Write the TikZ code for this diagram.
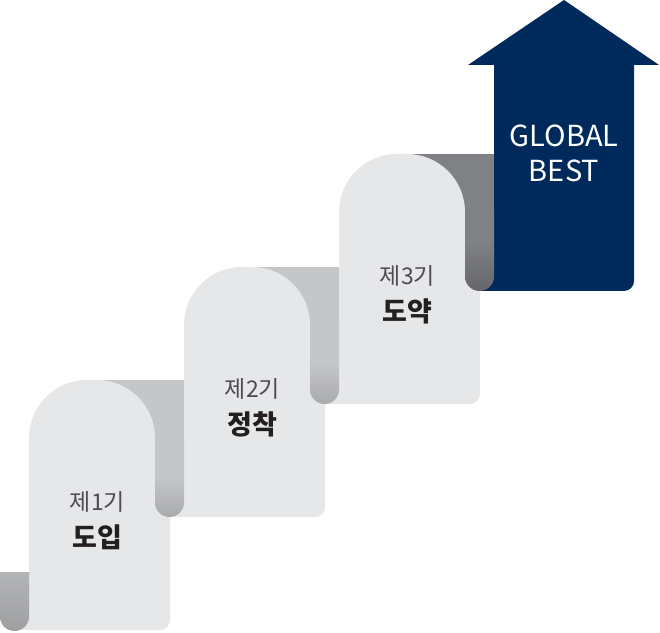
\documentclass[tikz,border=0pt]{standalone}
\usepackage{fontspec}
\setmainfont{Noto Sans CJK KR}
\usetikzlibrary{positioning}

\definecolor{cardgray}{HTML}{E6E7E9}
\definecolor{bandgray}{HTML}{C5C6C8}
\definecolor{banddark}{HTML}{808185}
\definecolor{navy}{HTML}{002A5C}
\definecolor{lblgray}{HTML}{4D4D4F}
\definecolor{ttlblack}{HTML}{231F20}

\pgfdeclareverticalshading{curlA}{100bp}{color(0bp)=(bandgray!72!black); color(50bp)=(bandgray); color(100bp)=(bandgray)}
\pgfdeclareverticalshading{curlC}{100bp}{color(0bp)=(banddark!62!black); color(55bp)=(banddark); color(100bp)=(banddark)}
\pgfdeclareverticalshading{stubA}{100bp}{color(0bp)=(bandgray!75!black); color(100bp)=(bandgray!96!black)}

\begin{document}
\begin{tikzpicture}[x=1pt,y=1pt,
    lbl/.style={font=\fontsize{23}{26}\selectfont, text=lblgray, inner sep=0pt},
    ttl/.style={font=\fontsize{27}{30}\selectfont\bfseries, text=ttlblack, inner sep=0pt},
    goal/.style={font=\fontsize{29}{35}\selectfont, text=white, align=center, inner sep=0pt}]
\useasboundingbox (0,0) rectangle (660,632);

% arrow
\fill[navy] (480,341) -- (624,341) arc[start angle=-90,end angle=0,radius=10] -- (634,567) -- (659,567)
  -- (564,632) -- (468,567) -- (494,567) -- (494,420) -- (480,420) -- cycle;
\node[goal] (best) at (564,479) {GLOBAL\\BEST};

% steps, back to front
\foreach \i/\band/\curl/\num/\name in {2/banddark/curlC/3/도약,1/bandgray/curlA/2/정착,0/bandgray/curlA/1/도입}{
  \begin{scope}[shift={(155*\i,113*\i)}]
    \fill[\band] (95,190) rectangle (184,252);
    \fill[cardgray] (15,2) -- (15,40) -- (29,40) -- (29,194) arc[start angle=180,end angle=90,radius=58]
      -- (97,252) arc[start angle=90,end angle=0,radius=58] -- (170,194) -- (170,12)
      arc[start angle=0,end angle=-90,radius=10] -- cycle;
    \shade[shading=\curl] (155,197) -- (155,129.5) arc[start angle=180,end angle=270,radius=14.5]
      arc[start angle=270,end angle=360,radius=14.5] -- (184,197) -- cycle;
    \node[lbl] (lbl\num) at (97.5,130) {제\num 기};
    \node[ttl] (ttl\num) at (97.5,95) {\name};
  \end{scope}
}

% curl stub
\shade[shading=stubA] (0,60) -- (0,15.5) arc[start angle=180,end angle=270,radius=14.5]
  arc[start angle=270,end angle=360,radius=14.5] -- (29,60) -- cycle;
\end{tikzpicture}
\end{document}
